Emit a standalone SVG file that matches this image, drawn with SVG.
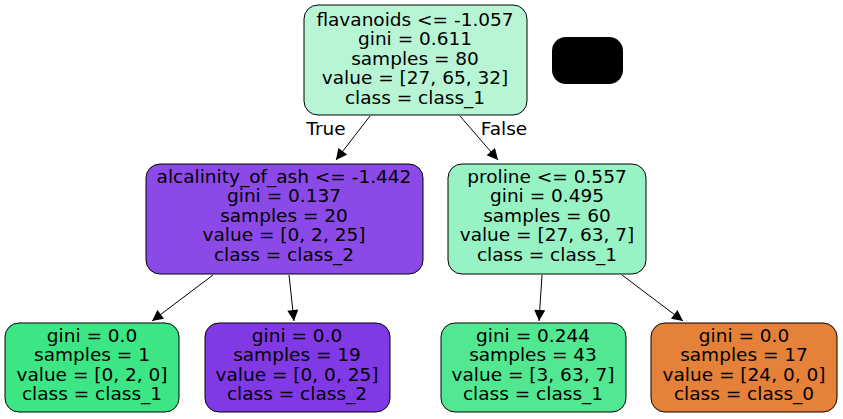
<svg xmlns="http://www.w3.org/2000/svg" width="843" height="419" viewBox="0 0 843 419">
<style>
text{font-family:"DejaVu Sans",sans-serif;font-size:18.5px;text-anchor:middle;fill:#000}
.n{stroke:#000;stroke-width:1}
.e{stroke:#000;stroke-width:1;fill:none;marker-end:url(#a)}
</style>
<defs><marker id="a" viewBox="0 0 10 10" refX="10" refY="5" markerWidth="13" markerHeight="11" markerUnits="userSpaceOnUse" orient="auto"><path d="M0,0L10,5L0,10z" fill="#000"/></marker></defs>
<rect width="843" height="419" fill="#fff"/>
<g id="edges">
<path class="e" d="M370,116L336,160"/>
<path class="e" d="M460,116L498,160"/>
<path class="e" d="M213,275L152,321"/>
<path class="e" d="M289,275L294,321"/>
<path class="e" d="M542,275L539,321"/>
<path class="e" d="M622,275L683,321"/>
<text x="326" y="135">True</text>
<text x="504" y="135">False</text>
</g>
<g id="n0"><rect class="n" x="304" y="5" width="223" height="110" rx="14" fill="#b7f5d5"/>
<text x="415" y="26">flavanoids &lt;= -1.057</text><text x="415" y="45">gini = 0.611</text><text x="415" y="65">samples = 80</text><text x="415" y="84">value = [27, 65, 32]</text><text x="415" y="104">class = class_1</text></g>
<g id="legend"><rect x="552" y="37" width="71" height="47" rx="14" fill="#000"/></g>
<g id="n1"><rect class="n" x="146" y="164" width="277" height="110" rx="14" fill="#8b4ae7"/>
<text x="284" y="183">alcalinity_of_ash &lt;= -1.442</text><text x="284" y="202">gini = 0.137</text><text x="284" y="222">samples = 20</text><text x="284" y="241">value = [0, 2, 25]</text><text x="284" y="261">class = class_2</text></g>
<g id="n4"><rect class="n" x="448" y="164" width="198" height="110" rx="14" fill="#97f3c3"/>
<text x="547" y="183">proline &lt;= 0.557</text><text x="547" y="202">gini = 0.495</text><text x="547" y="222">samples = 60</text><text x="547" y="241">value = [27, 63, 7]</text><text x="547" y="261">class = class_1</text></g>
<g id="n2"><rect class="n" x="5" y="323" width="174" height="89" rx="14" fill="#3de684"/>
<text x="92" y="342">gini = 0.0</text><text x="92" y="361">samples = 1</text><text x="92" y="381">value = [0, 2, 0]</text><text x="92" y="400">class = class_1</text></g>
<g id="n3"><rect class="n" x="205" y="323" width="185" height="89" rx="14" fill="#8139e5"/>
<text x="297" y="342">gini = 0.0</text><text x="297" y="361">samples = 19</text><text x="297" y="381">value = [0, 0, 25]</text><text x="297" y="400">class = class_2</text></g>
<g id="n5"><rect class="n" x="441" y="323" width="185" height="89" rx="14" fill="#52e891"/>
<text x="533" y="342">gini = 0.244</text><text x="533" y="361">samples = 43</text><text x="533" y="381">value = [3, 63, 7]</text><text x="533" y="400">class = class_1</text></g>
<g id="n6"><rect class="n" x="651" y="323" width="186" height="89" rx="14" fill="#e58139"/>
<text x="744" y="342">gini = 0.0</text><text x="744" y="361">samples = 17</text><text x="744" y="381">value = [24, 0, 0]</text><text x="744" y="400">class = class_0</text></g>
</svg>
